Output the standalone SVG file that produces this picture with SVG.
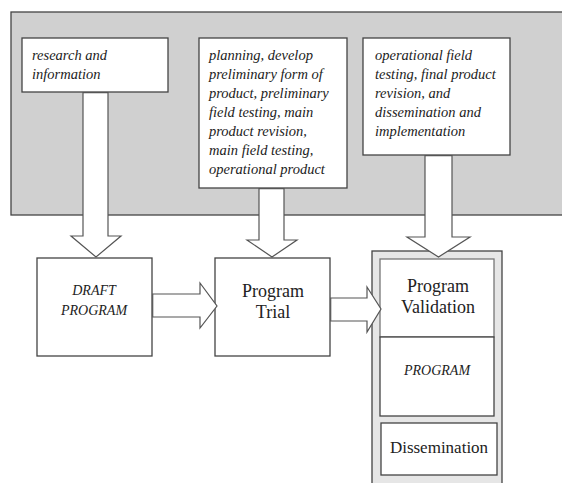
<svg xmlns="http://www.w3.org/2000/svg" width="562" height="483" viewBox="0 0 562 483">
<style>
.box{fill:#fff;stroke:#444;stroke-width:1.3}
.it{font-family:'Liberation Serif','Times New Roman',serif;font-style:italic;font-size:14.5px;fill:#222}
.cap{font-family:'Liberation Serif','Times New Roman',serif;font-style:italic;font-size:14px;fill:#222;text-anchor:middle}
.up{font-family:'Liberation Serif','Times New Roman',serif;font-size:18px;fill:#222;text-anchor:middle}
</style>
<rect width="562" height="483" fill="#fff"/>
<g id="background">
<rect x="11" y="12" width="560" height="203" fill="#d0d0d0" stroke="#444" stroke-width="1.3"/>
</g>
<g id="n-research">
<rect class="box" x="22" y="38" width="146" height="54"/>
<text class="it"><tspan x="32" y="60">research and</tspan><tspan x="32" y="79">information</tspan></text>
</g>
<g id="n-planning">
<rect class="box" x="199" y="38" width="148" height="150"/>
<text class="it"><tspan x="209" y="60">planning, develop</tspan><tspan x="209" y="79">preliminary form of</tspan><tspan x="209" y="98">product, preliminary</tspan><tspan x="209" y="117">field testing, main</tspan><tspan x="209" y="136">product revision,</tspan><tspan x="209" y="155">main field testing,</tspan><tspan x="209" y="174">operational product</tspan></text>
</g>
<g id="n-operational">
<rect class="box" x="363" y="38" width="147" height="117"/>
<text class="it"><tspan x="375" y="60">operational field</tspan><tspan x="375" y="79">testing, final product</tspan><tspan x="375" y="98">revision, and</tspan><tspan x="375" y="117">dissemination and</tspan><tspan x="375" y="136">implementation</tspan></text>
</g>
<g id="n-draft">
<rect class="box" x="37" y="258" width="115" height="98"/>
<text class="cap"><tspan x="94" y="295">DRAFT</tspan><tspan x="94" y="315">PROGRAM</tspan></text>
</g>
<g id="n-trial">
<rect class="box" x="215" y="258" width="115" height="98"/>
<text class="up"><tspan x="273" y="297">Program</tspan><tspan x="273" y="318">Trial</tspan></text>
</g>
<g id="n-validation-group">
<rect x="372" y="251" width="130" height="240" fill="#e6e6e6" stroke="#444" stroke-width="1.3"/>
</g>
<g id="n-validation">
<rect class="box" x="380" y="259" width="114" height="78" style="stroke:#777"/>
<text class="up"><tspan x="438" y="292">Program</tspan><tspan x="438" y="313">Validation</tspan></text>
</g>
<g id="n-program">
<rect class="box" x="380" y="337" width="114" height="79"/>
<text class="cap" x="437" y="375">PROGRAM</text>
</g>
<g id="n-dissemination">
<rect class="box" x="381" y="423" width="116" height="52"/>
<text class="up" x="439" y="453" style="font-size:17px">Dissemination</text>
</g>
<g id="connectors" fill="#fff" stroke="#555" stroke-width="1.2">
<polygon points="83,92.7 108,92.7 108,236 121,236 96,257 71,236 83,236"/>
<polygon points="259,188.7 284,188.7 284,240 297,240 272,257 247,240 259,240"/>
<polygon points="425,155.7 452,155.7 452,237 470,237 438.5,257 407,237 425,237"/>
<polygon points="152.7,294 200,294 200,283 217,306 200,328 200,317 152.7,317"/>
<polygon points="330.7,298 367,298 367,287 381,309 367,332 367,321 330.7,321"/>
</g>
</svg>
